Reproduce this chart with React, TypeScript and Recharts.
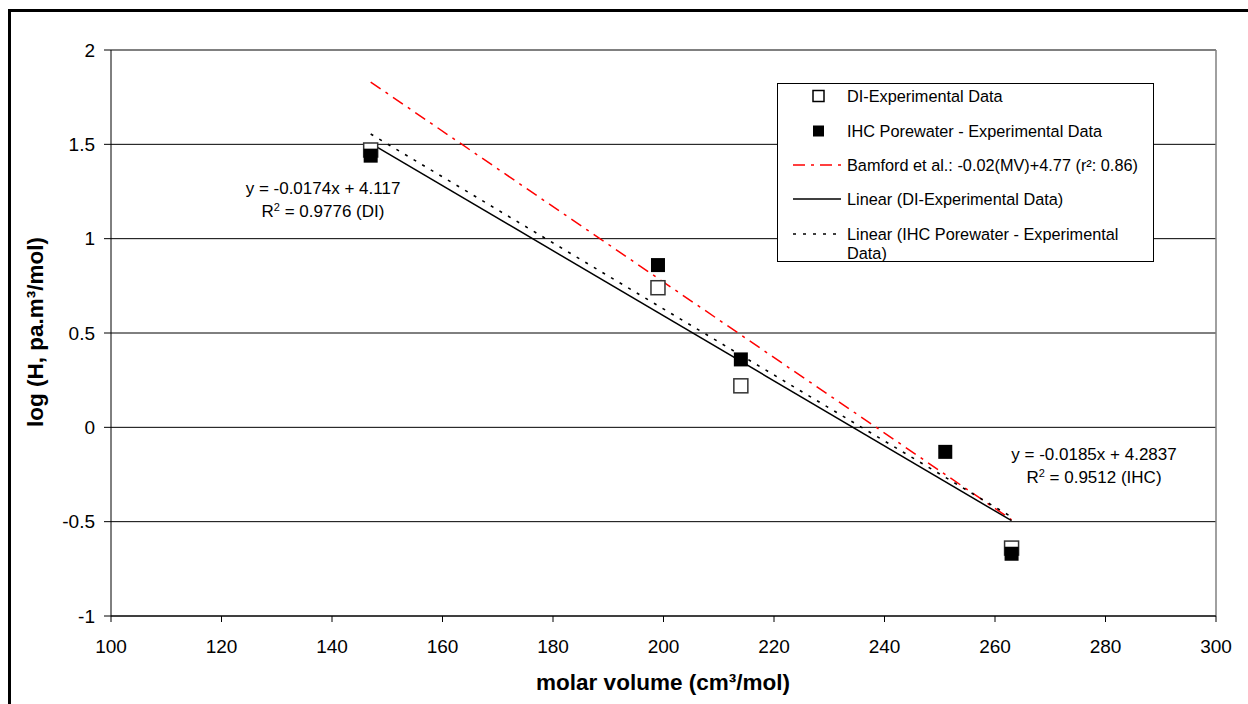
import React from "react";
import {
  ComposedChart,
  Line,
  Scatter,
  XAxis,
  YAxis,
  CartesianGrid,
  ReferenceLine,
  Legend,
} from "recharts";

// measured points
const diX = [147, 199, 214, 263];
const diY = [1.47, 0.74, 0.22, -0.64];
const ihcX = [147, 199, 214, 251, 263];
const ihcY = [1.44, 0.86, 0.36, -0.13, -0.67];

// trendline end points
const fitX = [147, 263];
const diFitY = [1.505, -0.495];
const ihcFitY = [1.555, -0.475];
const bamfordY = [1.83, -0.49];

const xTicks = [100, 120, 140, 160, 180, 200, 220, 240, 260, 280, 300];
const yTicks = [-1, -0.5, 0, 0.5, 1, 1.5, 2];

const toRows = (xs: number[], ys: number[]) => xs.map((x, i) => ({ x, y: ys[i] }));

const diData = toRows(diX, diY);
const ihcData = toRows(ihcX, ihcY);
const diFit = toRows(fitX, diFitY);
const ihcFit = toRows(fitX, ihcFitY);
const bamford = toRows(fitX, bamfordY);

const FONT = "'Liberation Sans', Arial, sans-serif";

const OpenSquare = (props: any) => {
  const { cx, cy } = props;
  return <rect x={cx - 7} y={cy - 7} width={14} height={14} fill="#fff" stroke="#333" strokeWidth={1.5} />;
};
const FilledSquare = (props: any) => {
  const { cx, cy } = props;
  return <rect x={cx - 7} y={cy - 7} width={14} height={14} fill="#000" />;
};

const legendRows = [
  { kind: "open", label: ["DI-Experimental Data"] },
  { kind: "filled", label: ["IHC Porewater - Experimental Data"] },
  { kind: "dashdot", label: ["Bamford et al.: -0.02(MV)+4.77 (r\u00b2: 0.86)"] },
  { kind: "solid", label: ["Linear (DI-Experimental Data)"] },
  { kind: "dotted", label: ["Linear (IHC Porewater - Experimental", "Data)"] },
];
const rowCenters = [12, 47, 81, 115, 150];

function LegendBox() {
  return (
    <div
      style={{
        position: "relative",
        width: 377,
        height: 179,
        border: "1px solid #000",
        background: "#fff",
        boxSizing: "border-box",
        fontFamily: FONT,
        fontSize: 16.3,
        color: "#000",
      }}
    >
      {legendRows.map((r, i) => {
        const c = rowCenters[i];
        return (
          <React.Fragment key={i}>
            <svg style={{ position: "absolute", left: 0, top: c - 10 }} width={70} height={20}>
              {r.kind === "open" && <rect x={35} y={4.5} width={11} height={11} fill="#fff" stroke="#000" strokeWidth={1.5} />}
              {r.kind === "filled" && <rect x={35} y={4.5} width={11} height={11} fill="#000" />}
              {r.kind === "dashdot" && <line x1={15} y1={10} x2={63} y2={10} stroke="#ff0000" strokeWidth={1.5} strokeDasharray="12 6 3 6" />}
              {r.kind === "solid" && <line x1={15} y1={10} x2={63} y2={10} stroke="#000" strokeWidth={1.5} />}
              {r.kind === "dotted" && <line x1={15} y1={10} x2={63} y2={10} stroke="#000" strokeWidth={1.5} strokeDasharray="3 7" />}
            </svg>
            <div style={{ position: "absolute", left: 69, top: c - 9, lineHeight: "19px", whiteSpace: "nowrap" }}>
              {r.label.map((t, j) => (
                <div key={j}>{t}</div>
              ))}
            </div>
          </React.Fragment>
        );
      })}
    </div>
  );
}

const noteStyle: React.CSSProperties = {
  position: "absolute",
  fontFamily: FONT,
  fontSize: 17,
  lineHeight: "23px",
  textAlign: "center",
  whiteSpace: "nowrap",
  color: "#000",
};

export default function App() {
  return (
    <div style={{ position: "absolute", left: 0, top: 0, width: 1248, height: 704, overflow: "hidden", background: "#fff" }}>
      <div
        style={{
          position: "absolute",
          left: 8,
          top: 9,
          width: 1300,
          height: 800,
          border: "3px solid #000",
        }}
      />
      <ComposedChart
        width={1248}
        height={704}
        margin={{ top: 50, right: 32, bottom: 28, left: 0 }}
        style={{ position: "absolute", left: 0, top: 0 }}
      >
        <CartesianGrid horizontal vertical={false} stroke="#000" strokeWidth={1} />
        <XAxis
          type="number"
          dataKey="x"
          domain={[100, 300]}
          ticks={xTicks}
          height={60}
          tickSize={6}
          tickMargin={18}
          stroke="#000"
          tick={{ fill: "#000", fontSize: 19, fontFamily: FONT }}
          allowDataOverflow
        />
        <YAxis
          type="number"
          dataKey="y"
          domain={[-1, 2]}
          ticks={yTicks}
          width={111}
          tickSize={7}
          tickMargin={9}
          stroke="#000"
          tick={{ fill: "#000", fontSize: 19, fontFamily: FONT }}
          tickFormatter={(v: number) => String(v)}
          allowDataOverflow
        />
        <ReferenceLine y={2} stroke="#808080" strokeWidth={1.5} />
        <ReferenceLine x={300} stroke="#808080" strokeWidth={1.5} />
        <Scatter name="DI-Experimental Data" data={diData} dataKey="y" shape={OpenSquare} isAnimationActive={false} />
        <Scatter name="IHC Porewater - Experimental Data" data={ihcData} dataKey="y" shape={FilledSquare} isAnimationActive={false} />
        <Line
          data={bamford}
          dataKey="y"
          type="linear"
          stroke="#ff0000"
          strokeWidth={1.5}
          strokeDasharray="12 6 3 6"
          dot={false}
          activeDot={false}
          isAnimationActive={false}
        />
        <Line
          data={diFit}
          dataKey="y"
          type="linear"
          stroke="#000"
          strokeWidth={1.5}
          dot={false}
          activeDot={false}
          isAnimationActive={false}
        />
        <Line
          data={ihcFit}
          dataKey="y"
          type="linear"
          stroke="#000"
          strokeWidth={1.6}
          strokeDasharray="3 7"
          dot={false}
          activeDot={false}
          isAnimationActive={false}
        />
        <Legend
          layout="vertical"
          align="center"
          verticalAlign="middle"
          wrapperStyle={{ left: 777, top: 83, width: 377, height: 179 }}
          content={() => <LegendBox />}
        />
      </ComposedChart>

      {/* axis titles */}
      <div
        style={{
          position: "absolute",
          left: 663,
          top: 683,
          transform: "translate(-50%, -50%)",
          fontFamily: FONT,
          fontWeight: "bold",
          fontSize: 22.5,
          whiteSpace: "nowrap",
        }}
      >
        molar volume (cm³/mol)
      </div>
      <div
        style={{
          position: "absolute",
          left: 36,
          top: 332,
          transform: "translate(-50%, -50%) rotate(-90deg)",
          fontFamily: FONT,
          fontWeight: "bold",
          fontSize: 22.5,
          whiteSpace: "nowrap",
        }}
      >
        log (H, pa.m³/mol)
      </div>

      {/* trendline equations */}
      <div style={{ ...noteStyle, left: 323, top: 177, transform: "translateX(-50%)" }}>
        <div>y = -0.0174x + 4.117</div>
        <div>
          R<sup style={{ fontSize: 11, verticalAlign: "6px", lineHeight: 0 }}>2</sup> = 0.9776 (DI)
        </div>
      </div>
      <div style={{ ...noteStyle, left: 1094, top: 443, transform: "translateX(-50%)" }}>
        <div>y = -0.0185x + 4.2837</div>
        <div>
          R<sup style={{ fontSize: 11, verticalAlign: "6px", lineHeight: 0 }}>2</sup> = 0.9512 (IHC)
        </div>
      </div>
    </div>
  );
}
